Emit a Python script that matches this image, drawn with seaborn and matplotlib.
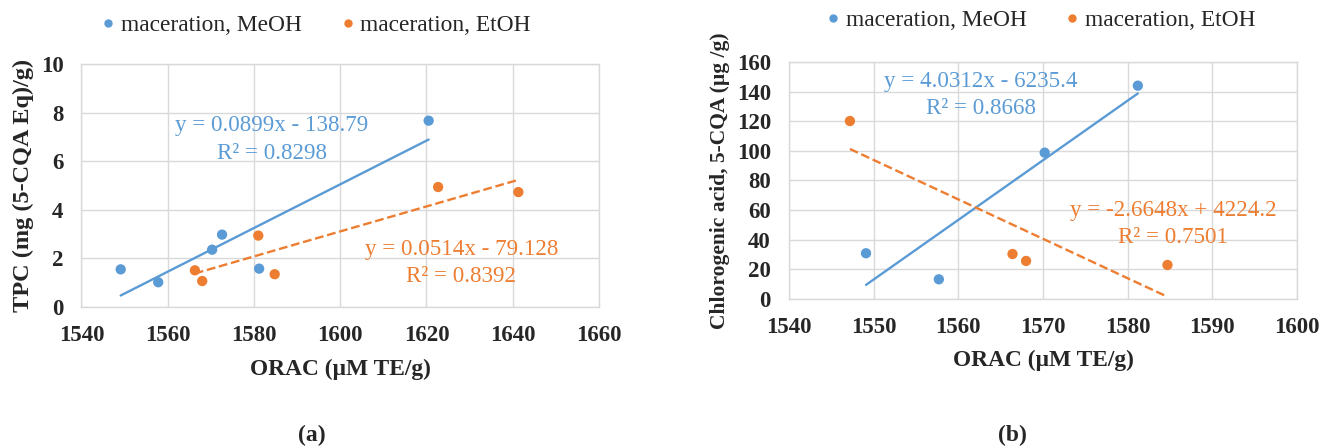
import numpy as np
import pandas as pd
import matplotlib
matplotlib.use("Agg")
import matplotlib.pyplot as plt
from matplotlib.lines import Line2D
import seaborn as sns

blue = "#5B9BD5"
orange = "#ED7D31"
grid_col = "#D9D9D9"

series_names = ["maceration, MeOH", "maceration, EtOH"]

# (a) TPC vs ORAC
a_meoh_orac = [1549.1, 1557.8, 1570.3, 1572.6, 1581.2, 1620.5]
a_meoh_tpc = [1.55, 1.02, 2.36, 2.98, 1.58, 7.67]
a_etoh_orac = [1566.3, 1568.0, 1581.0, 1584.8, 1622.7, 1641.3]
a_etoh_tpc = [1.51, 1.07, 2.94, 1.35, 4.94, 4.73]

# (b) chlorogenic acid vs ORAC
b_meoh_orac = [1549.1, 1557.7, 1570.2, 1581.2]
b_meoh_cqa = [30.7, 13.1, 98.7, 144.0]
b_etoh_orac = [1547.2, 1566.4, 1568.0, 1584.7]
b_etoh_cqa = [120.1, 30.2, 25.5, 22.8]

# trend lines as printed on the chart: slope, intercept, R2
a_meoh_fit = (0.0899, -138.79, "0.8298")
a_etoh_fit = (0.0514, -79.128, "0.8392")
b_meoh_fit = (4.0312, -6235.4, "0.8668")
b_etoh_fit = (-2.6648, 4224.2, "0.7501")

sns.set_theme(style="whitegrid")
plt.rcParams["font.family"] = ["Liberation Serif", "DejaVu Serif"]


def eq_text(fit):
    m, b, r2 = fit
    sign = "-" if b < 0 else "+"
    return f"y = {m:g}x {sign} {abs(b):g}\nR² = {r2}"


def panel(ax, x1, y1, x2, y2, fit1, fit2, pos1, pos2):
    df = pd.DataFrame({
        "orac": x1 + x2,
        "val": y1 + y2,
        "group": [series_names[0]] * len(x1) + [series_names[1]] * len(x2),
    })
    sns.scatterplot(data=df, x="orac", y="val", hue="group",
                    palette=[blue, orange], s=55, linewidth=0,
                    legend=False, ax=ax, zorder=3)
    for xs, fit, col, ls in [(x1, fit1, blue, "-"), (x2, fit2, orange, "--")]:
        xx = np.array([min(xs), max(xs)])
        ax.plot(xx, fit[0] * xx + fit[1], color=col, ls=ls, lw=1.7, zorder=2)
    ax.text(*pos1, eq_text(fit1), color=blue, fontsize=16.6, ha="center",
            va="center", linespacing=1.42)
    ax.text(*pos2, eq_text(fit2), color=orange, fontsize=16.6, ha="center",
            va="center", linespacing=1.42)
    ax.grid(color=grid_col, lw=1)
    for sp in ax.spines.values():
        sp.set_color(grid_col)
        sp.set_linewidth(1)
    ax.tick_params(length=0, labelsize=16.5)
    ax.tick_params(axis="x", pad=13)
    ax.tick_params(axis="y", pad=13)
    plt.setp(ax.get_xticklabels(), fontweight="bold")
    plt.setp(ax.get_yticklabels(), fontweight="bold")
    ax.set_xlabel("ORAC (µM TE/g)", fontsize=16.8, fontweight="bold", labelpad=9)


fig = plt.figure(figsize=(13.2, 4.48), dpi=100)
ax1 = fig.add_axes([0.0617, 0.3147, 0.3921, 0.5423])
ax2 = fig.add_axes([0.5977, 0.3333, 0.3849, 0.5283])

ax1.set_xlim(1540, 1660)
ax1.set_ylim(0, 10)
ax1.set_xticks(range(1540, 1661, 20))
ax1.set_yticks(range(0, 11, 2))
panel(ax1, a_meoh_orac, a_meoh_tpc, a_etoh_orac, a_etoh_tpc,
      a_meoh_fit, a_etoh_fit, (1584.2, 6.9), (1628.1, 1.81))
ax1.set_ylabel("TPC (mg (5-CQA Eq)/g)", fontsize=17.5, fontweight="bold", labelpad=5)

ax2.set_xlim(1540, 1600)
ax2.set_ylim(0, 160)
ax2.set_xticks(range(1540, 1601, 10))
ax2.set_yticks(range(0, 161, 20))
panel(ax2, b_meoh_orac, b_meoh_cqa, b_etoh_orac, b_etoh_cqa,
      b_meoh_fit, b_etoh_fit, (1562.7, 137.7), (1585.4, 50.5))
ax2.set_ylabel("Chlorogenic acid, 5-CQA (µg /g)", fontsize=15.5,
               fontweight="bold", labelpad=5)

handles = [Line2D([], [], ls="", marker="o", ms=5, color=c) for c in (blue, orange)]
for cx, cy in [(0.240, 0.944), (0.789, 0.955)]:
    fig.legend(handles, series_names, loc="center", bbox_to_anchor=(cx, cy),
               ncol=2, frameon=False, fontsize=16.8, handlelength=0.5,
               handletextpad=0.3, columnspacing=1.7)

fig.text(312 / 1320, 1 - 435 / 448, "(a)", fontsize=17, fontweight="bold",
         ha="center", va="center")
fig.text(1012 / 1320, 1 - 435 / 448, "(b)", fontsize=17, fontweight="bold",
         ha="center", va="center")

fig.savefig("out.png", dpi=100)
